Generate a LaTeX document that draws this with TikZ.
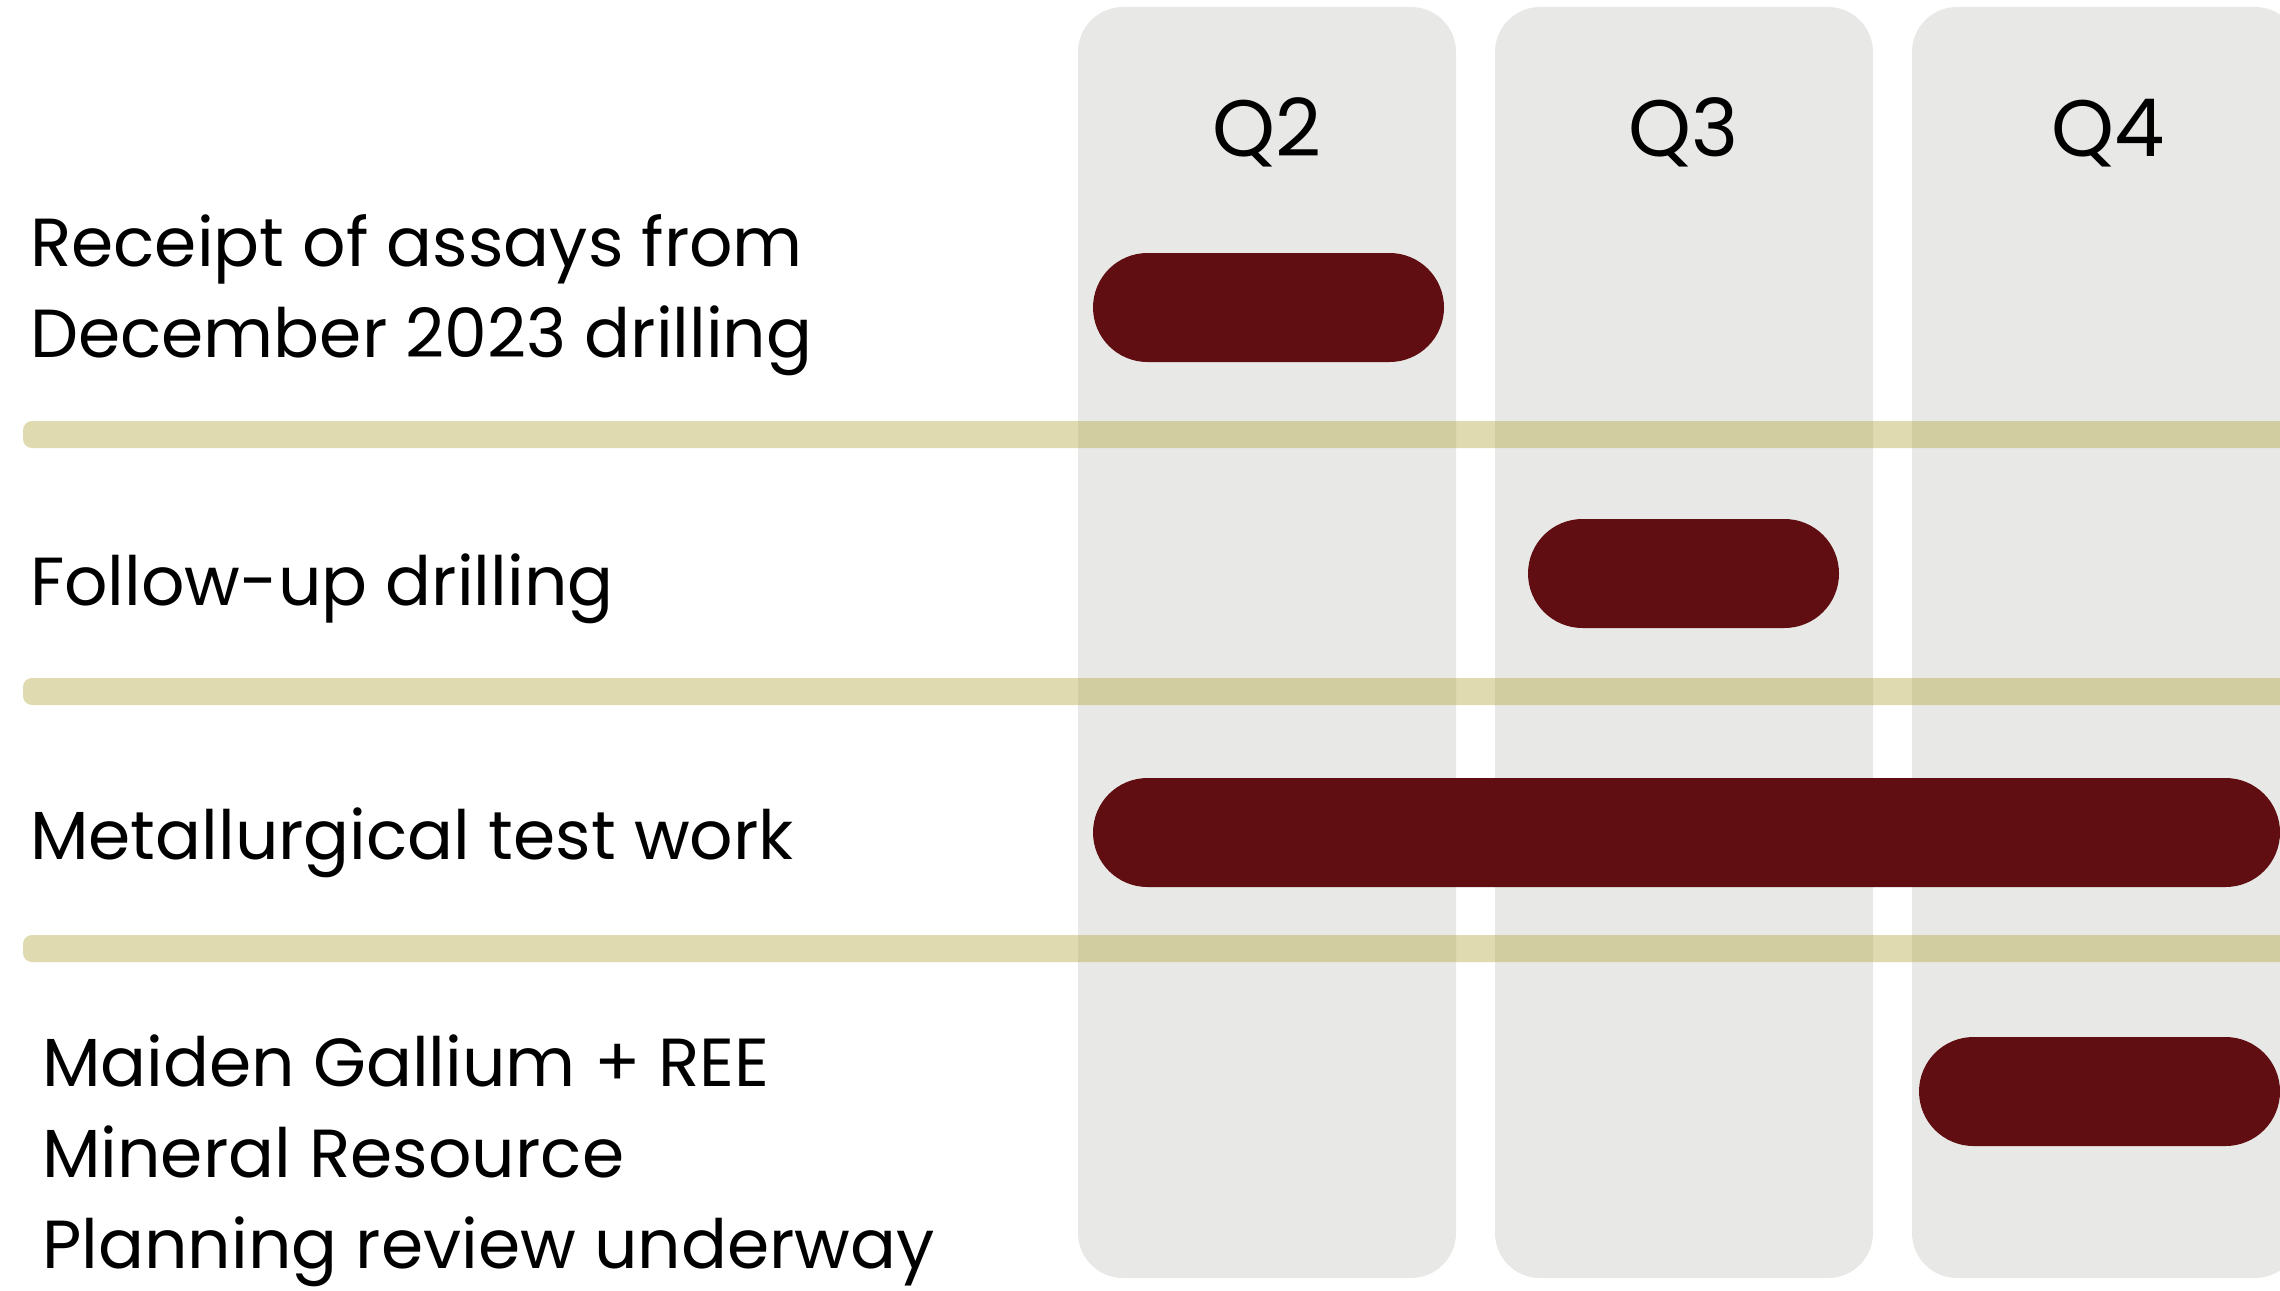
\documentclass[tikz,border=0pt]{standalone}
\usepackage{fontspec}
\setmainfont{Poppins}
\definecolor{colgray}{RGB}{232,233,230}
\definecolor{sepgold}{RGB}{176,160,53}
\definecolor{barred}{RGB}{96,14,17}
\begin{document}
\begin{tikzpicture}[x=1pt,y=-1pt,
  quarter/.style={fill=colgray,rounded corners=45pt},
  sepline/.style={fill=sepgold,fill opacity=0.39,rounded corners=9pt},
  taskbar/.style={fill=barred,rounded corners=54.5pt},
  rowlabel/.style={anchor=base west,inner sep=0pt,font=\fontsize{68}{84}\selectfont},
  qlabel/.style={anchor=base,inner sep=0pt,font=\fontsize{80}{96}\selectfont}]
\useasboundingbox (0,0) rectangle (2280,1290);
\begin{scope}
\clip (0,0) rectangle (2280,1290);
% quarter columns
\path[quarter] (1078,7) rectangle (1456,1278);
\path[quarter] (1495,7) rectangle (1873,1278);
\path[quarter] (1912,7) rectangle (2300,1278);
% separators
\path[sepline] (23,421) rectangle (2320,448);
\path[sepline] (23,678) rectangle (2320,705);
\path[sepline] (23,935) rectangle (2320,962);
% bars
\path[taskbar] (1093,253) rectangle (1444,362);
\path[taskbar] (1528,519) rectangle (1839,628);
\path[taskbar] (1093,778) rectangle (2280,887);
\path[taskbar] (1919,1037) rectangle (2280,1146);
\end{scope}
% quarter labels
\node[qlabel] (q2) at (1267,156) {Q2};
\node[qlabel] (q3) at (1684,156) {Q3};
\node[qlabel] (q4) at (2108,156) {Q4};
% row labels
\node[rowlabel] (r1a) at (30,266) {Receipt of assays from};
\node[rowlabel] (r1b) at (30,357) {December 2023 drilling};
\node[rowlabel] (r2) at (30,605) {Follow-up drilling};
\node[rowlabel] (r3) at (30,859) {Metallurgical test work};
\node[rowlabel] (r4a) at (42,1086) {Maiden Gallium + REE};
\node[rowlabel] (r4b) at (42,1177) {Mineral Resource};
\node[rowlabel] (r4c) at (42,1268) {Planning review underway};
\end{tikzpicture}
\end{document}
